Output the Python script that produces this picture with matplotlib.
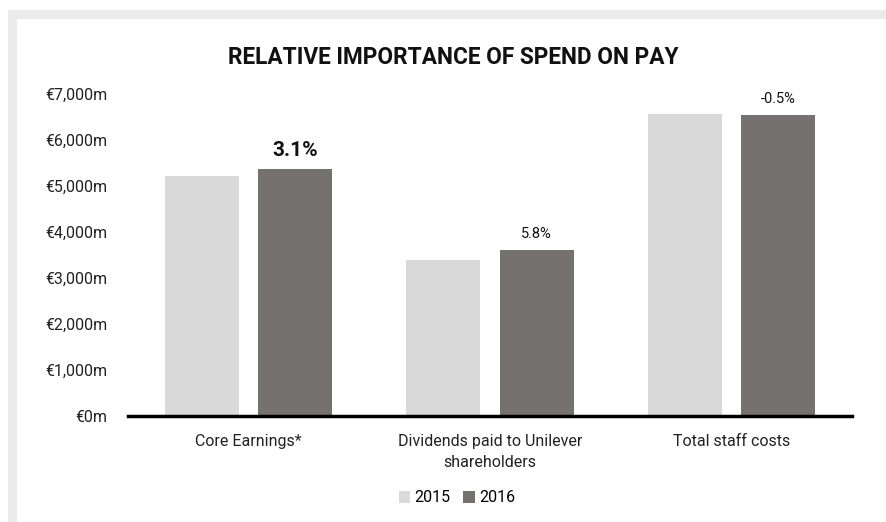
import matplotlib
matplotlib.use("Agg")
import matplotlib.pyplot as plt
from matplotlib.patches import Rectangle
import numpy as np

categories = ["Core Earnings*", "Dividends paid to Unilever\nshareholders", "Total staff costs"]
series_names = ["2015", "2016"]
values_2015 = [5212, 3400, 6566]
values_2016 = [5375, 3598, 6533]
change_labels = ["3.1%", "5.8%", "-0.5%"]
yticks = [0, 1000, 2000, 3000, 4000, 5000, 6000, 7000]
ytick_labels = ["€0m", "€1,000m", "€2,000m", "€3,000m", "€4,000m", "€5,000m", "€6,000m", "€7,000m"]

c15 = "#d9d9d9"
c16 = "#767171"

plt.rcParams['font.family'] = ['Roboto', 'DejaVu Sans']

fig = plt.figure(figsize=(8.86, 5.22), dpi=100)
fig.patch.set_facecolor("white")
# grey frame bands
fig.patches.append(Rectangle((8/886, 0), 9/886, 1 - 10/522, transform=fig.transFigure,
                             facecolor="#ebebeb", edgecolor="none", zorder=0))
fig.patches.append(Rectangle((8/886, 1 - 19/522), 1 - 8/886, 9/522, transform=fig.transFigure,
                             facecolor="#ebebeb", edgecolor="none", zorder=0))

ax = fig.add_axes([128/886, 1 - 416/522, (852-128)/886, (416-94)/522])
x = np.arange(len(categories))
w = 0.307
off = 0.193
b1 = ax.bar(x - off, values_2015, w, color=c15, label=series_names[0], zorder=2)
b2 = ax.bar(x + off, values_2016, w, color=c16, label=series_names[1], zorder=2)

for i, (xi, v, lab) in enumerate(zip(x, values_2016, change_labels)):
    if i == 0:
        ax.text(xi + off, v + 180, lab, ha="center", va="bottom", fontsize=15,
                fontweight="bold", color="#111111")
    else:
        ax.text(xi + off, v + 200, lab, ha="center", va="bottom", fontsize=10.5,
                color="#111111")

ax.set_xlim(-0.5, 2.5)
ax.set_ylim(0, 7000)
ax.set_yticks(yticks)
ax.set_yticklabels(ytick_labels, fontsize=11.5, color="#222222")
ax.set_xticks(x)
ax.set_xticklabels(categories, fontsize=11.5, color="#222222", linespacing=1.5)
ax.tick_params(axis="y", length=0, pad=15)
ax.tick_params(axis="x", length=0, pad=13)
for s in ["top", "right", "left"]:
    ax.spines[s].set_visible(False)
ax.spines["bottom"].set_linewidth(2.5)
ax.spines["bottom"].set_color("black")

fig.text(453/886, 1 - 58/522, "RELATIVE IMPORTANCE OF SPEND ON PAY", ha="center", va="center",
         fontsize=16.3, fontweight="bold", color="#111111")

leg = fig.legend(handles=[b1, b2], labels=series_names, loc="center",
                 bbox_to_anchor=(457/886, 1 - 498/522), ncol=2, frameon=False,
                 fontsize=11.5, handlelength=0.7, handleheight=0.7, handletextpad=0.3,
                 columnspacing=0.8)

fig.savefig("out.png", dpi=100, facecolor="white")
